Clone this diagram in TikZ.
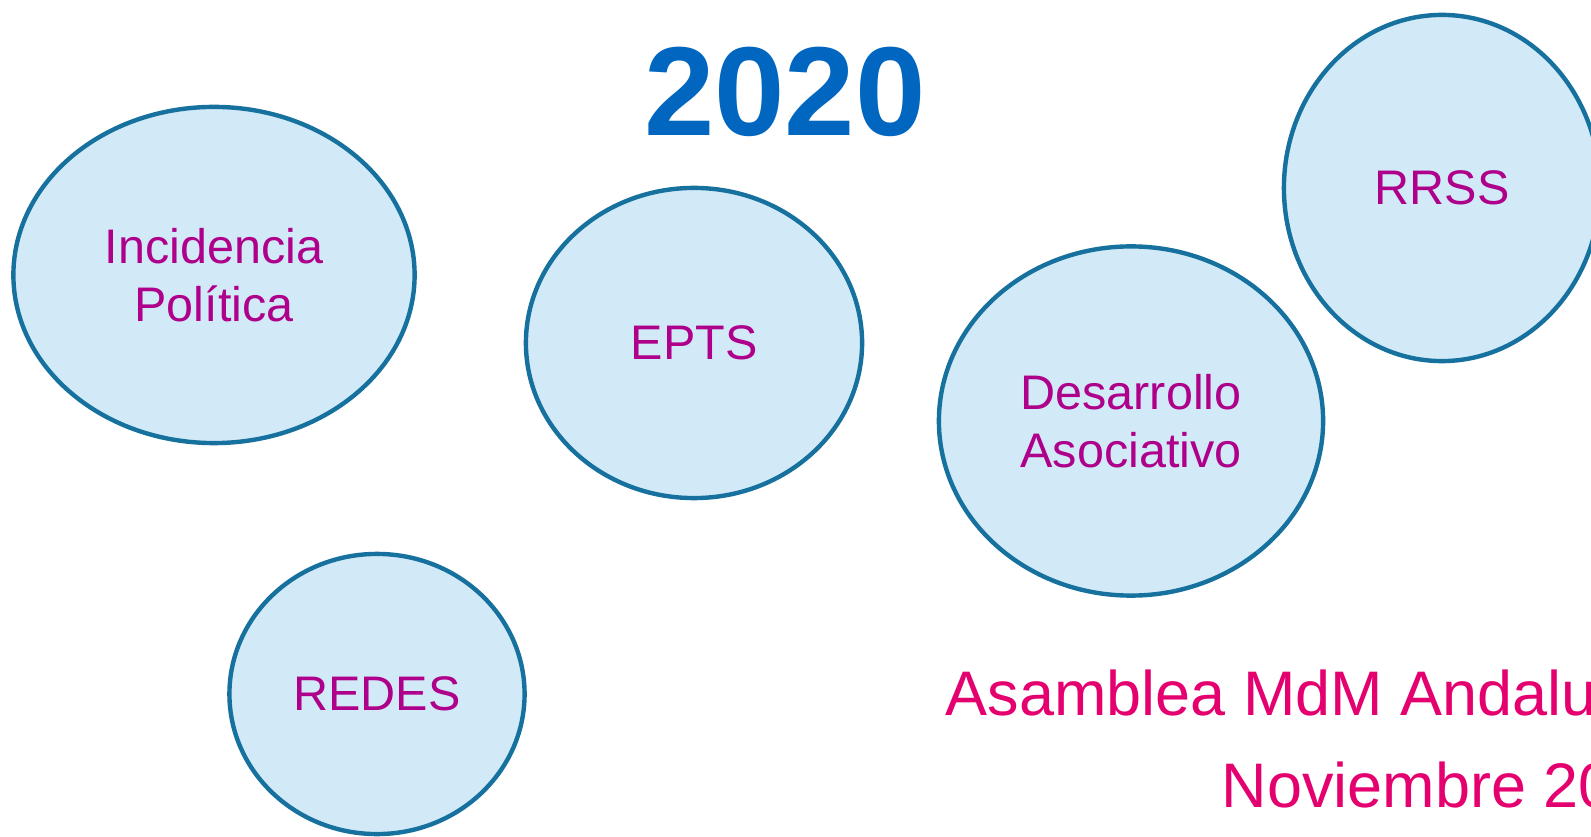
\documentclass[tikz,border=0pt]{standalone}
\usepackage{fontspec}
\setmainfont{Liberation Sans}
\usepackage{xcolor}
\usepackage{tikz}
\usetikzlibrary{shapes,positioning}
\definecolor{mdmblue}{RGB}{0,102,191}
\definecolor{mdmpurple}{RGB}{174,0,138}
\definecolor{mdmpink}{RGB}{228,0,110}
\definecolor{mdmline}{RGB}{22,113,158}
\definecolor{mdmfill}{RGB}{210,234,247}

\begin{document}
\begin{tikzpicture}[
    x=0.01cm, y=-0.01cm,
    bubble/.style={ellipse, draw=mdmline, fill=mdmfill, line width=1.25pt, text=mdmpurple, align=center, inner sep=0pt, font=\fontsize{13.8}{16.5}\selectfont},
    year/.style={text=mdmblue, inner sep=0pt, font=\fontsize{36}{40}\selectfont\bfseries},
    footer/.style={text=mdmpink, inner sep=0pt, anchor=base west, font=\fontsize{17.9}{22}\selectfont}
]
    \useasboundingbox (0,0) rectangle (1591,837);
    \clip (0,0) rectangle (1591,837);

    \node[year] (year) at (785,92) {2020};

    \node[bubble, minimum width=4.01cm, minimum height=3.36cm] (incid) at (214,275) {Incidencia\\Política};
    \node[bubble, minimum width=3.36cm, minimum height=3.10cm] (epts) at (694,343) {EPTS};
    \node[bubble, minimum width=3.84cm, minimum height=3.49cm] (desarr) at (1131,421) {Desarrollo\\Asociativo};
    \node[bubble, minimum width=3.16cm, minimum height=3.46cm] (rrss) at (1442,188) {RRSS};
    \node[bubble, minimum width=2.95cm, minimum height=2.80cm] (redes) at (377,694) {REDES};

    \node[footer] (asamblea) at (945,715) {Asamblea MdM Andalu};
    \node[footer] (noviembre) at (1221,807) {Noviembre 20};
\end{tikzpicture}
\end{document}
